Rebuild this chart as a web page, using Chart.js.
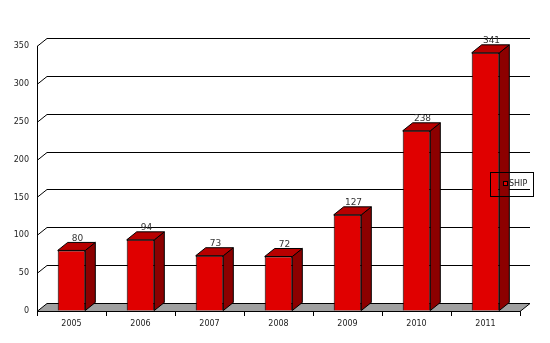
<!DOCTYPE html>
<html>
<head>
<meta charset="utf-8">
<script src="https://cdn.jsdelivr.net/npm/chart.js@4/dist/chart.umd.min.js"></script>
<style>
	html, body { margin: 0; padding: 0; background: #fff; }
	#wrap { width: 550px; height: 343px; }
</style>
</head>
<body>
<div id="wrap"><canvas id="dataChart" width="550" height="343"></canvas></div>
<script>
// data
const years = ['2005', '2006', '2007', '2008', '2009', '2010', '2011'];
const shipValues = [80, 94, 73, 72, 127, 238, 341];
const seriesName = 'SHIP';
const yTicks = [0, 50, 100, 150, 200, 250, 300, 350];

// 3d look: depth of the bars / back wall
const depth = { x: 10, y: 8 };

const poly = (ctx, pts, fill) => {
	ctx.beginPath();
	ctx.moveTo(pts[0][0], pts[0][1]);
	for (let i = 1; i < pts.length; i++) ctx.lineTo(pts[i][0], pts[i][1]);
	ctx.closePath();
	ctx.fillStyle = fill;
	ctx.fill();
	ctx.stroke();
};

const threeD = {
	id: 'threeD',
	beforeDatasetsDraw(chart) {
		const { ctx, chartArea: a, scales: { y } } = chart;
		ctx.save();
		ctx.lineWidth = 1;
		ctx.strokeStyle = '#000';
		// back wall gridlines
		yTicks.forEach(v => {
			if (v === 0) return;
			const py = Math.round(y.getPixelForValue(v)) + 0.5;
			ctx.beginPath();
			ctx.moveTo(a.left, py);
			ctx.lineTo(a.left + depth.x, py - depth.y);
			ctx.lineTo(a.right + depth.x, py - depth.y);
			ctx.stroke();
		});
		// floor
		const p0 = Math.round(y.getPixelForValue(0)) + 0.5;
		poly(ctx, [[a.left, p0], [a.right, p0], [a.right + depth.x, p0 - depth.y], [a.left + depth.x, p0 - depth.y]], '#a0a0a0');
		ctx.restore();
	},
	afterDatasetsDraw(chart) {
		const { ctx } = chart;
		const meta = chart.getDatasetMeta(0);
		ctx.save();
		ctx.lineWidth = 1;
		ctx.strokeStyle = '#000';
		meta.data.forEach(bar => {
			const { x, y, width, base } = bar.getProps(['x', 'y', 'width', 'base'], true);
			const l = x - width / 2, r = x + width / 2;
			poly(ctx, [[r, y], [r + depth.x, y - depth.y], [r + depth.x, base - depth.y], [r, base]], '#8c0000');
			poly(ctx, [[l, y], [l + depth.x, y - depth.y], [r + depth.x, y - depth.y], [r, y]], '#b80000');
		});
		// value labels
		ctx.fillStyle = '#333';
		ctx.font = '9px "DejaVu Sans"';
		ctx.textAlign = 'center';
		ctx.textBaseline = 'middle';
		meta.data.forEach((bar, i) => {
			ctx.fillText(shipValues[i], bar.x + 6, bar.y - 12);
		});
		ctx.restore();
	},
	afterDraw(chart) {
		const { ctx } = chart;
		ctx.save();
		// legend box
		ctx.strokeStyle = '#000';
		ctx.lineWidth = 1;
		ctx.strokeRect(490.5, 172.5, 43, 24);
		ctx.fillStyle = '#e00000';
		ctx.fillRect(503, 181, 5, 5);
		ctx.strokeRect(503.5, 181.5, 4, 4);
		ctx.fillStyle = '#222';
		ctx.font = '8px "DejaVu Sans"';
		ctx.textBaseline = 'middle';
		ctx.fillText(seriesName, 509, 184);
		ctx.restore();
	}
};

Chart.defaults.font.family = '"DejaVu Sans", Verdana, sans-serif';
Chart.defaults.font.size = 8;
Chart.defaults.color = '#222';

const ctx = document.getElementById('dataChart').getContext('2d');
const chart = new Chart(ctx, {
	type: 'bar',
	data: {
		labels: years,
		datasets: [{
			label: seriesName,
			data: shipValues,
			backgroundColor: '#e00000',
			borderColor: '#000',
			borderWidth: 1,
			barPercentage: 0.4,
			categoryPercentage: 1
		}]
	},
	options: {
		responsive: false,
		animation: false,
		layout: { padding: { top: 46, right: 30, left: 0, bottom: 0 } },
		plugins: { legend: { display: false }, tooltip: { enabled: false } },
		scales: {
			x: {
				grid: { drawOnChartArea: false, drawTicks: true, tickLength: 5, color: '#000' },
				border: { display: true, color: '#000' },
				ticks: { padding: 3, color: '#222' },
				afterFit: s => { s.height = 32; }
			},
			y: {
				min: 0,
				max: 350,
				ticks: { stepSize: 50, padding: 8, color: '#222' },
				grid: { drawOnChartArea: false, drawTicks: false },
				border: { display: true, color: '#000' },
				afterFit: s => { s.width = 37; }
			}
		}
	},
	plugins: [threeD]
});
</script>
</body>
</html>
